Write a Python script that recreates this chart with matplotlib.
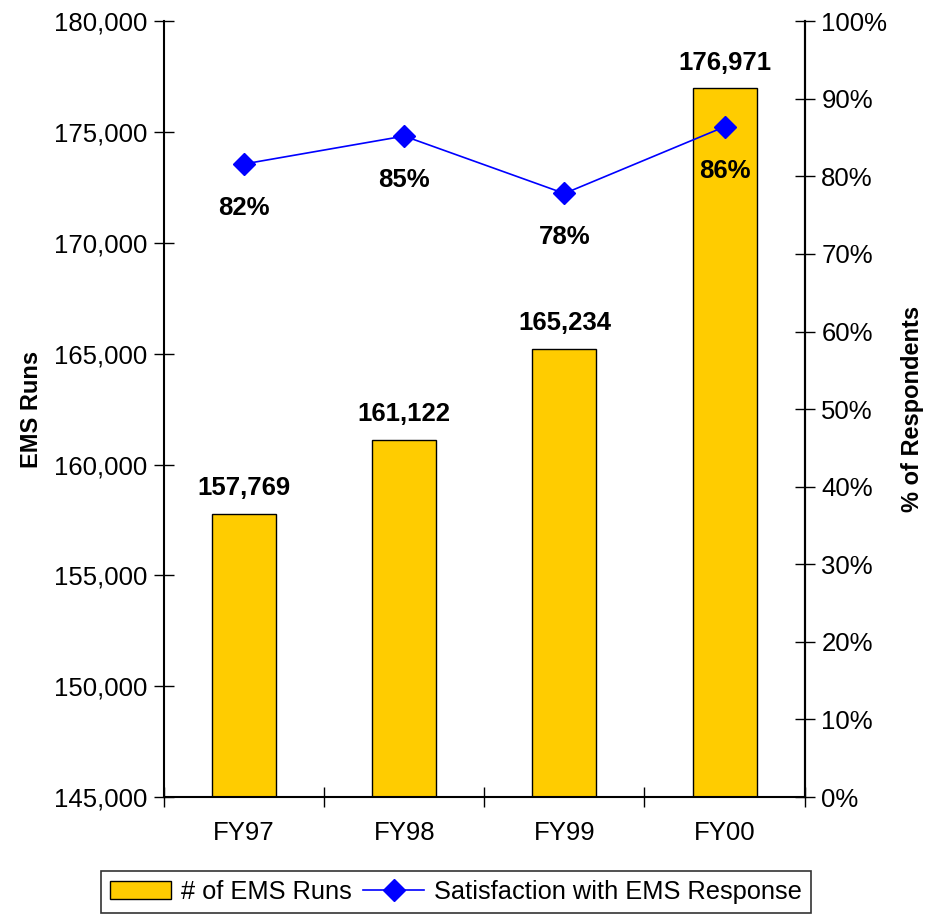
import numpy as np
import matplotlib.pyplot as plt
from matplotlib.ticker import FuncFormatter, MultipleLocator

years = ["FY97", "FY98", "FY99", "FY00"]
runs = [157769, 161122, 165234, 176971]
satisf = [81.6, 85.2, 77.8, 86.4]
satisf_lbl = ["82%", "85%", "78%", "86%"]

plt.rcParams['font.family'] = ['Liberation Sans', 'DejaVu Sans']

fig = plt.figure(figsize=(9.26, 9.24), dpi=100)
ax = fig.add_axes([0.177, 0.1374, 0.692, 0.8396])
x = np.arange(len(years))

bars = ax.bar(x, runs, width=0.4, color='#FFCC00', edgecolor='black', linewidth=1,
              label='# of EMS Runs', zorder=2)
ax.set_ylim(145000, 180000)
ax.set_xlim(-0.5, 3.5)
ax.yaxis.set_major_locator(MultipleLocator(5000))
ax.yaxis.set_major_formatter(FuncFormatter(lambda v, p: f"{int(v):,}"))
ax.set_xticks(x)
ax.set_xticklabels(years)
ax.set_xticks(np.arange(-0.5, 4, 1), minor=True)
ax.tick_params(axis='x', which='major', length=0, labelsize=18.5, pad=17)
ax.tick_params(axis='x', which='minor', direction='inout', length=14, width=1)
ax.tick_params(axis='y', direction='inout', length=14, width=1, labelsize=18.5, pad=5)
ax.set_ylabel("EMS Runs", fontsize=17, fontweight='bold', labelpad=8)
ax.spines['top'].set_visible(False)
for s in ['left', 'bottom', 'right']:
    ax.spines[s].set_linewidth(1.5)

for xi, v in zip(x, runs):
    ax.annotate(f"{v:,}", (xi, v), xytext=(0, 10), textcoords='offset points',
                ha='center', va='bottom', fontsize=18.5, fontweight='bold')

ax2 = ax.twinx()
ax2.set_ylim(0, 100)
ax2.yaxis.set_major_locator(MultipleLocator(10))
ax2.yaxis.set_major_formatter(FuncFormatter(lambda v, p: f"{int(v)}%"))
ax2.tick_params(axis='y', direction='inout', length=14, width=1, labelsize=18.5, pad=5)
ax2.spines['top'].set_visible(False)
ax2.spines['right'].set_linewidth(1.5)
ax2.spines['left'].set_visible(False)
ax2.spines['bottom'].set_visible(False)
line, = ax2.plot(x, satisf, color='blue', marker='D', markersize=11, linewidth=1.2,
                 label='Satisfaction with EMS Response', zorder=3)
ax2.set_ylabel("% of Respondents", fontsize=17, fontweight='bold', labelpad=10)
for xi, v, t in zip(x, satisf, satisf_lbl):
    ax2.annotate(t, (xi, v), xytext=(0, -23), textcoords='offset points',
                 ha='center', va='top', fontsize=18.5, fontweight='bold')

leg = fig.legend([bars, line], ['# of EMS Runs', 'Satisfaction with EMS Response'],
                 loc='center', bbox_to_anchor=(0.4924, 0.0346), ncol=2, fontsize=18.3,
                 frameon=True, fancybox=False, edgecolor='black', handlelength=2.4,
                 handletextpad=0.4, columnspacing=0.45, borderpad=0.35, borderaxespad=0)
leg.get_frame().set_linewidth(1.2)

fig.savefig("out.png", dpi=100)
